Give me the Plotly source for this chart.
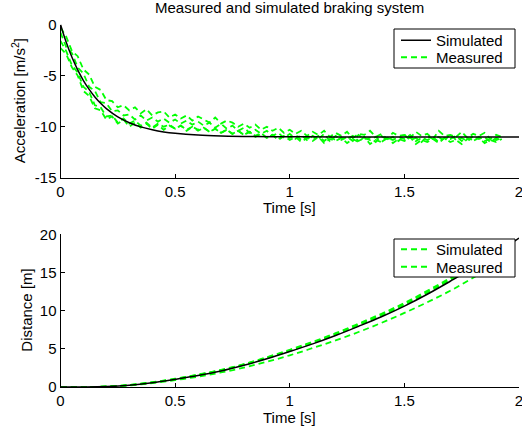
import numpy as np
import plotly.graph_objects as go

# ---------------- data ----------------
# simulated acceleration (s, m/s^2)
T_SIM_ACC = [0, 0.025, 0.05, 0.075, 0.1, 0.125, 0.15, 0.175, 0.2, 0.25, 0.3, 0.35,
             0.4, 0.45, 0.5, 0.6, 0.7, 0.8, 1.0, 1.2, 1.5, 2.0]
A_SIM = [0, -1.74, -3.21, -4.44, -5.48, -6.35, -7.09, -7.71, -8.23, -9.04, -9.61, -10.02,
         -10.30, -10.51, -10.65, -10.82, -10.91, -10.96, -10.99, -11.0, -11.0, -11.0]

# measured acceleration, four runs sampled every 0.025 s from 0 to 1.925 s
T_MEAS_ACC = np.round(np.arange(0, 1.926, 0.025), 3)
A_MEAS_1 = [
    -0.3, -1.2, -2.6, -3.1, -4.4, -4.9, -6.1, -6.4, -7.4, -7.5,
    -8.1, -7.9, -8.4, -8.1, -8.7, -8.3, -8.9, -8.6, -8.5, -9.1,
    -8.8, -9.2, -8.9, -9.4, -9.0, -9.3, -9.6, -9.1, -9.7, -9.4,
    -9.6, -10.0, -9.7, -10.1, -9.8, -10.3, -10.0, -10.4, -10.1, -10.6,
    -10.3, -10.7, -10.4, -10.9, -10.5, -10.8, -10.4, -11.0, -10.6, -10.9,
    -10.5, -11.1, -10.7, -10.8, -10.4, -11.0, -10.7, -11.2, -10.6, -10.9,
    -10.8, -11.1, -10.5, -10.9, -10.7, -11.2, -10.4, -10.9, -10.8, -11.0,
    -10.5, -11.1, -10.7, -10.9, -10.6, -11.2, -10.8, -11.0]
A_MEAS_2 = [
    -0.8, -2.2, -2.8, -4.2, -4.8, -6.1, -6.5, -7.6, -7.7, -8.5,
    -8.4, -8.9, -8.8, -9.3, -8.9, -9.4, -9.1, -9.5, -9.2, -9.6,
    -9.3, -9.7, -9.4, -9.8, -9.5, -9.9, -9.6, -10.1, -9.7, -10.2,
    -9.9, -10.4, -10.1, -10.6, -10.3, -10.7, -10.4, -10.9, -10.6, -11.1,
    -10.7, -11.2, -10.8, -11.3, -10.9, -11.2, -10.7, -11.4, -10.9, -11.3,
    -11.0, -11.4, -10.8, -11.2, -11.1, -11.5, -10.9, -11.3, -11.0, -11.4,
    -10.8, -11.3, -11.1, -11.5, -10.9, -11.2, -11.0, -11.4, -10.7, -11.3,
    -11.1, -11.4, -10.9, -11.2, -11.0, -11.5, -11.1, -11.3]
A_MEAS_3 = [
    -1.6, -2.6, -4.0, -4.7, -6.1, -6.6, -7.9, -8.1, -9.0, -8.9,
    -9.6, -9.2, -9.7, -9.4, -9.9, -9.6, -10.1, -9.7, -10.0, -9.8,
    -10.2, -9.9, -10.3, -10.0, -10.4, -10.1, -10.5, -10.2, -10.6, -10.3,
    -10.7, -10.4, -10.8, -10.5, -11.0, -10.7, -11.1, -10.8, -11.3, -10.9,
    -11.3, -11.0, -11.5, -11.1, -11.4, -11.0, -11.6, -11.2, -11.4, -11.1,
    -11.6, -11.2, -11.5, -11.0, -11.7, -11.3, -11.5, -11.1, -11.6, -11.2,
    -11.4, -11.0, -11.7, -11.3, -11.5, -11.2, -11.6, -11.1, -11.5, -11.3,
    -11.7, -11.2, -11.4, -11.1, -11.6, -11.3, -11.5, -11.2]
A_MEAS_4 = [
    -2.3, -2.9, -4.2, -5.0, -6.5, -7.0, -8.2, -8.4, -9.3, -9.0,
    -9.7, -9.3, -10.0, -9.6, -10.1, -9.7, -10.2, -9.8, -10.3, -9.9,
    -10.2, -9.9, -10.4, -10.0, -10.3, -10.1, -10.5, -10.2, -10.6, -10.3,
    -10.7, -10.4, -10.8, -10.5, -10.9, -10.6, -11.1, -10.8, -11.2, -10.9,
    -11.1, -10.8, -11.3, -11.0, -11.2, -10.9, -11.4, -11.0, -11.3, -11.1,
    -11.2, -10.9, -11.4, -11.1, -11.3, -11.0, -11.5, -11.1, -11.3, -11.0,
    -11.2, -10.8, -11.4, -11.1, -11.3, -11.0, -11.5, -11.1, -11.2, -10.9,
    -11.4, -11.1, -11.3, -11.0, -11.4, -11.2, -11.3, -11.1]

# distance (m)
T_SIM_DIST = [0, 0.1, 0.2, 0.3, 0.4, 0.5, 0.6, 0.7, 0.8, 0.9, 1.0,
              1.1, 1.2, 1.3, 1.4, 1.5, 1.6, 1.7, 1.8, 1.9, 2.0]
D_SIM = [0, 0.0, 0.05, 0.22, 0.55, 1.0, 1.5, 2.1, 2.85, 3.7, 4.65,
         5.65, 6.75, 7.95, 9.2, 10.6, 12.15, 13.85, 15.6, 17.5, 19.5]
T_MEAS_DIST = [0, 0.1, 0.2, 0.3, 0.4, 0.5, 0.6, 0.7, 0.8, 0.9,
               1.0, 1.1, 1.2, 1.3, 1.4, 1.5, 1.6, 1.7, 1.8, 1.9]
D_MEAS_1 = [0, 0.0, 0.06, 0.25, 0.6, 1.05, 1.6, 2.2, 2.95, 3.85, 4.8, 5.85, 6.95, 8.2, 9.5, 10.9, 12.45, 14.15, 16.0, 17.9]
D_MEAS_2 = [0, 0.0, 0.05, 0.24, 0.58, 1.02, 1.55, 2.15, 2.9, 3.78, 4.72, 5.75, 6.85, 8.05, 9.35, 10.75, 12.3, 14.0, 15.8, 17.7]
D_MEAS_3 = [0, 0.0, 0.07, 0.27, 0.63, 1.08, 1.63, 2.25, 3.0, 3.9, 4.88, 5.92, 7.05, 8.3, 9.6, 11.0, 12.6, 14.3, 16.15, 18.1]
D_MEAS_4 = [0, 0.0, 0.04, 0.2, 0.5, 0.9, 1.35, 1.9, 2.55, 3.3, 4.15, 5.1, 6.1, 7.2, 8.4, 9.7, 11.1, 12.6, 14.3, 16.1]

X_TICKS = [0, 0.5, 1, 1.5, 2]
X_TICK_TEXT = ["0", "0.5", "1", "1.5", "2"]
ACC_TICKS = [-15, -10, -5, 0]
ACC_TICK_TEXT = ["-15", "-10", "-5", "0"]
DIST_TICKS = [0, 5, 10, 15, 20]
DIST_TICK_TEXT = ["0", "5", "10", "15", "20"]

TITLE = "Measured and simulated braking system"

# ---------------- figure ----------------
W, H = 522, 429
FONT = "Liberation Sans, Arial, Helvetica, sans-serif"
GREEN = "#00ff00"
DASH = "6px,4px"

fig = go.Figure()

acc_meas = [A_MEAS_1, A_MEAS_2, A_MEAS_3, A_MEAS_4]
for i, a in enumerate(acc_meas):
    fig.add_trace(go.Scatter(
        x=T_MEAS_ACC, y=a, mode="lines", xaxis="x", yaxis="y",
        line=dict(color=GREEN, width=1.8, dash=DASH),
        name="Measured", showlegend=(i == 0), legend="legend2"))
fig.add_trace(go.Scatter(
    x=T_SIM_ACC, y=A_SIM, mode="lines", xaxis="x", yaxis="y",
    line=dict(color="black", width=1.5, shape="spline"),
    name="Simulated", showlegend=True, legend="legend"))

dist_meas = [D_MEAS_1, D_MEAS_2, D_MEAS_3, D_MEAS_4]
dist_names = ["Simulated", "Measured", "", ""]
dist_legends = ["legend3", "legend4", None, None]
for i, d in enumerate(dist_meas):
    kw = dict(legend=dist_legends[i]) if dist_legends[i] else {}
    fig.add_trace(go.Scatter(
        x=T_MEAS_DIST, y=d, mode="lines", xaxis="x2", yaxis="y2",
        line=dict(color=GREEN, width=1.8, dash=DASH, shape="spline"),
        name=dist_names[i], showlegend=(i < 2), **kw))
fig.add_trace(go.Scatter(
    x=T_SIM_DIST, y=D_SIM, mode="lines", xaxis="x2", yaxis="y2",
    line=dict(color="black", width=1.5, shape="spline"),
    name="Simulated", showlegend=False))

# axes pixel geometry
x0, x1 = 60.5, 519.0
top_y0, top_y1 = 24.5, 177.8
bot_y0, bot_y1 = 234.3, 387.0

def px(x):
    return x / W

def py(y):
    return 1 - y / H

axis_common = dict(showline=True, linecolor="black", linewidth=1, mirror=False,
                   ticks="inside", ticklen=4, tickwidth=1, tickcolor="black",
                   showgrid=False, zeroline=False, automargin=False,
                   ticklabeloverflow="allow",
                   tickfont=dict(family=FONT, size=15, color="black"))

leg_font = dict(family=FONT, size=15, color="black")

def entry(yc):
    return dict(x=px(396), y=py(yc), xanchor="left", yanchor="middle",
                bgcolor="rgba(0,0,0,0)", borderwidth=0, font=leg_font,
                itemwidth=30, itemclick=False, itemdoubleclick=False)

fig.update_layout(
    width=W, height=H,
    margin=dict(l=0, r=0, t=0, b=0, autoexpand=False),
    paper_bgcolor="white", plot_bgcolor="white",
    showlegend=True,
    xaxis=dict(domain=[px(x0), px(x1)], anchor="y", range=[0, 2],
               tickvals=X_TICKS, ticktext=X_TICK_TEXT, **axis_common),
    yaxis=dict(domain=[py(top_y1), py(top_y0)], anchor="x", range=[-15, 0],
               tickvals=ACC_TICKS, ticktext=ACC_TICK_TEXT, **axis_common),
    xaxis2=dict(domain=[px(x0), px(x1)], anchor="y2", range=[0, 2],
                tickvals=X_TICKS, ticktext=X_TICK_TEXT, **axis_common),
    yaxis2=dict(domain=[py(bot_y1), py(bot_y0)], anchor="x2", range=[0, 20],
                tickvals=DIST_TICKS, ticktext=DIST_TICK_TEXT, **axis_common),
    legend=entry(40.5),
    legend2=entry(57.5),
    legend3=entry(249.5),
    legend4=entry(267),
)

# legend frames
for (ly0, ly1) in [(29, 68), (239, 277)]:
    fig.add_shape(type="rect", xref="paper", yref="paper",
                  x0=px(394), x1=px(515), y0=py(ly1), y1=py(ly0),
                  line=dict(color="black", width=1), fillcolor="white", layer="above")

ann_font = dict(family=FONT, size=15, color="black")
annotations = [
    dict(text=TITLE, x=px((x0 + x1) / 2), y=py(7.5), xref="paper", yref="paper",
         xanchor="center", yanchor="middle", showarrow=False, font=ann_font),
    dict(text="Time [s]", x=px((x0 + x1) / 2), y=py(207), xref="paper", yref="paper",
         xanchor="center", yanchor="middle", showarrow=False, font=ann_font),
    dict(text="Time [s]", x=px((x0 + x1) / 2), y=py(417), xref="paper", yref="paper",
         xanchor="center", yanchor="middle", showarrow=False, font=ann_font),
    dict(text="Acceleration [m/s<sup>2</sup>]", x=px(18), y=py((top_y0 + top_y1) / 2),
         xref="paper", yref="paper", xanchor="center", yanchor="middle",
         textangle=-90, showarrow=False, font=ann_font),
    dict(text="Distance [m]", x=px(27), y=py((bot_y0 + bot_y1) / 2),
         xref="paper", yref="paper", xanchor="center", yanchor="middle",
         textangle=-90, showarrow=False, font=ann_font),
]
fig.update_layout(annotations=annotations)

fig.write_html("out.html", config={"displayModeBar": False},
               post_script="document.body.style.margin='0';document.body.style.overflow='hidden';")
